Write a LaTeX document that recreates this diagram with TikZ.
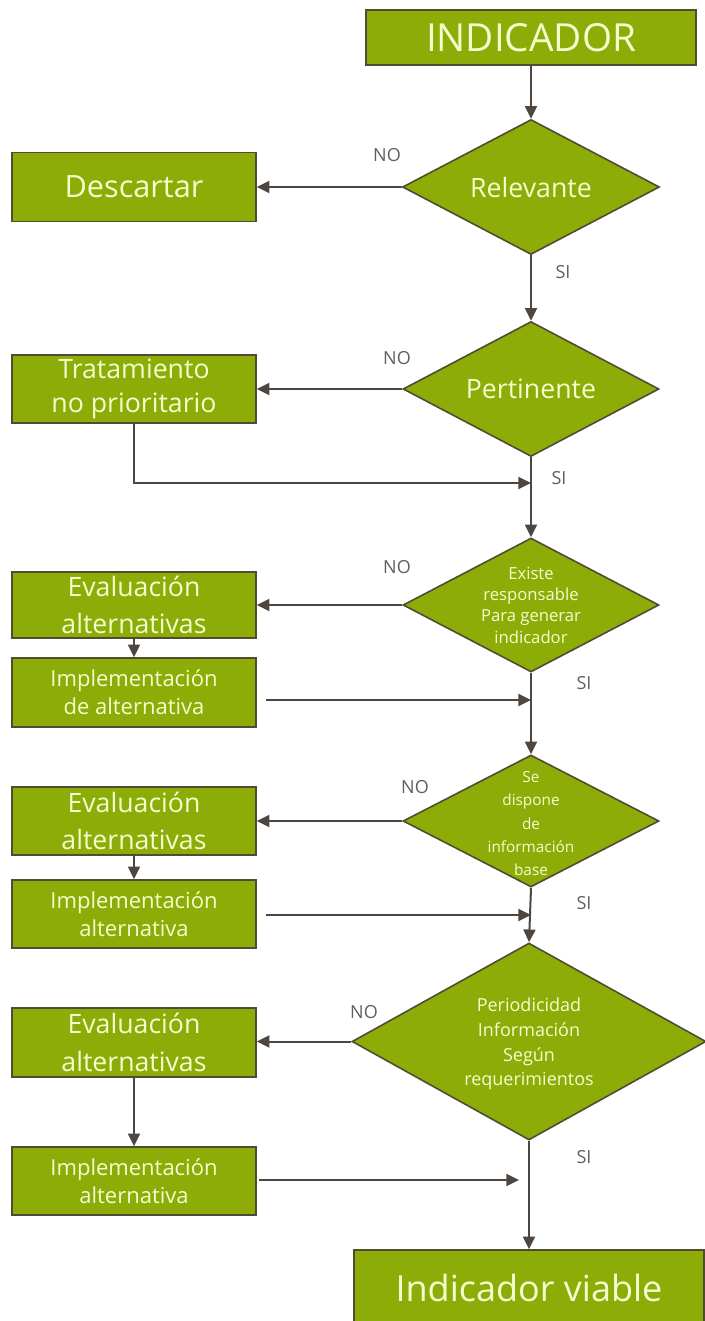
\documentclass[tikz,border=0pt]{standalone}
\usepackage{fontspec}
\setmainfont{Open Sans}
\usetikzlibrary{shapes.geometric,arrows.meta}
\definecolor{gfill}{RGB}{141,172,8}
\definecolor{gline}{RGB}{80,76,52}
\definecolor{gtext}{RGB}{242,255,205}
\definecolor{arrc}{RGB}{77,70,65}
\definecolor{lblc}{RGB}{95,95,95}
\def\PX{0.75pt}
\tikzset{
  box/.style={draw=gline, line width=1.2pt, fill=gfill, text=gtext, align=center, inner sep=0pt, minimum width=244*\PX},
  dia/.style={diamond, draw=gline, line width=1.2pt, fill=gfill, inner sep=0pt},
  dtxt/.style={text=gtext, align=center, inner sep=0pt},
  lbl/.style={text=lblc, font=\fontsize{13.5}{13.5}\selectfont, inner sep=0pt},
  arr/.style={draw=arrc, line width=1.5pt, -{Triangle[length=9.5pt,width=9pt]}},
  evalf/.style={font=\fontsize{20}{28}\selectfont},
  implf/.style={font=\fontsize{16.5}{21}\selectfont}
}
\begin{document}
\begin{tikzpicture}[x=0.75pt,y=-0.75pt]
\useasboundingbox (0,0) rectangle (704,1321);
% boxes
\node[box, minimum width=330*\PX, minimum height=55*\PX, font=\fontsize{29}{29}\selectfont] (ind) at (531,37.5) {INDICADOR};
\node[box, minimum height=69*\PX, font=\fontsize{23}{23}\selectfont] (desc) at (134,187) {Descartar};
\node[box, minimum height=68*\PX, font=\fontsize{20}{26}\selectfont] (trat) at (134,389) {Tratamiento\\no prioritario};
\node[box, minimum height=66*\PX, evalf] (ev1) at (134,605) {Evaluación\\alternativas};
\node[box, minimum height=69*\PX, implf] (im1) at (134,692.5) {Implementación\\de alternativa};
\node[box, minimum height=68*\PX, evalf] (ev2) at (134,821) {Evaluación\\alternativas};
\node[box, minimum height=68*\PX, implf] (im2) at (134,914) {Implementación\\alternativa};
\node[box, minimum height=69*\PX, evalf] (ev3) at (134,1042.5) {Evaluación\\alternativas};
\node[box, minimum height=68*\PX, implf] (im3) at (134,1181) {Implementación\\alternativa};
\node[box, minimum width=350*\PX, minimum height=75*\PX, font=\fontsize{27}{27}\selectfont] (viab) at (529,1287.5) {Indicador viable};
% diamonds
\node[dia, minimum width=257*\PX, minimum height=135*\PX] (rel) at (531,187) {};
\node[dtxt, font=\fontsize{20}{20}\selectfont] (relt) at (rel.center) {Relevante};
\node[dia, minimum width=256*\PX, minimum height=135*\PX] (per) at (531,389) {};
\node[dtxt, font=\fontsize{20}{20}\selectfont] (pert) at (per.center) {Pertinente};
\node[dia, minimum width=256*\PX, minimum height=134*\PX] (exi) at (531,605) {};
\node[dtxt, font=\fontsize{12.5}{16}\selectfont] (exit) at (exi.center) {Existe\\responsable\\Para generar\\indicador};
\node[dia, minimum width=256*\PX, minimum height=132*\PX] (sed) at (531,821) {};
\node[dtxt, font=\fontsize{11.5}{17.5}\selectfont] (sedt) at ([yshift=-2pt]sed.center) {Se\\dispone\\de\\información\\base};
\node[dia, minimum width=354*\PX, minimum height=197*\PX] (peri) at (529,1041.5) {};
\node[dtxt, font=\fontsize{13.5}{18.5}\selectfont] (perit) at ([yshift=-2pt]peri.center) {Periodicidad\\Información\\Según\\requerimientos};
% junction coordinates
\coordinate (j0) at (531,483);
\coordinate (j1) at (531,700);
\coordinate (j2) at (531,915);
\coordinate (j3) at (519,1180);
% main flow
\draw[arr] (ind.south) -- (rel.north);
\draw[arr] (rel.south) -- (per.north);
\draw[arr] (per.south) -- (exi.north);
\draw[arr] (exi.south) -- (sed.north);
\draw[arr] (sed.south) -- (peri.north);
\draw[arr] (peri.south) -- (viab.north);
% NO branches
\draw[arr] (rel.west) -- (rel.west -| desc.east);
\draw[arr] (per.west) -- (per.west -| trat.east);
\draw[arr] (exi.west) -- (exi.west -| ev1.east);
\draw[arr] (sed.west) -- (sed.west -| ev2.east);
\draw[arr] (peri.west) -- (peri.west -| ev3.east);
% alternatives
\draw[arr] (ev1.south) -- (im1.north);
\draw[arr] (ev2.south) -- (im2.north);
\draw[arr] (ev3.south) -- (im3.north);
\draw[arr] (trat.south) |- (j0);
\draw[arr, shorten <=7pt] (im1.east |- j1) -- (j1);
\draw[arr, shorten <=7pt] (im2.east |- j2) -- (j2);
\draw[arr, shorten <=2pt] (im3.east |- j3) -- (j3);
% labels
\node[lbl] (no1) at (387,155) {NO};
\node[lbl] (si1) at (563,272) {SI};
\node[lbl] (no2) at (397,358) {NO};
\node[lbl] (si2) at (559,478) {SI};
\node[lbl] (no3) at (397,567) {NO};
\node[lbl] (si3) at (584,683) {SI};
\node[lbl] (no4) at (415,787) {NO};
\node[lbl] (si4) at (584,903) {SI};
\node[lbl] (no5) at (364,1012) {NO};
\node[lbl] (si5) at (584,1157) {SI};
\end{tikzpicture}
\end{document}
